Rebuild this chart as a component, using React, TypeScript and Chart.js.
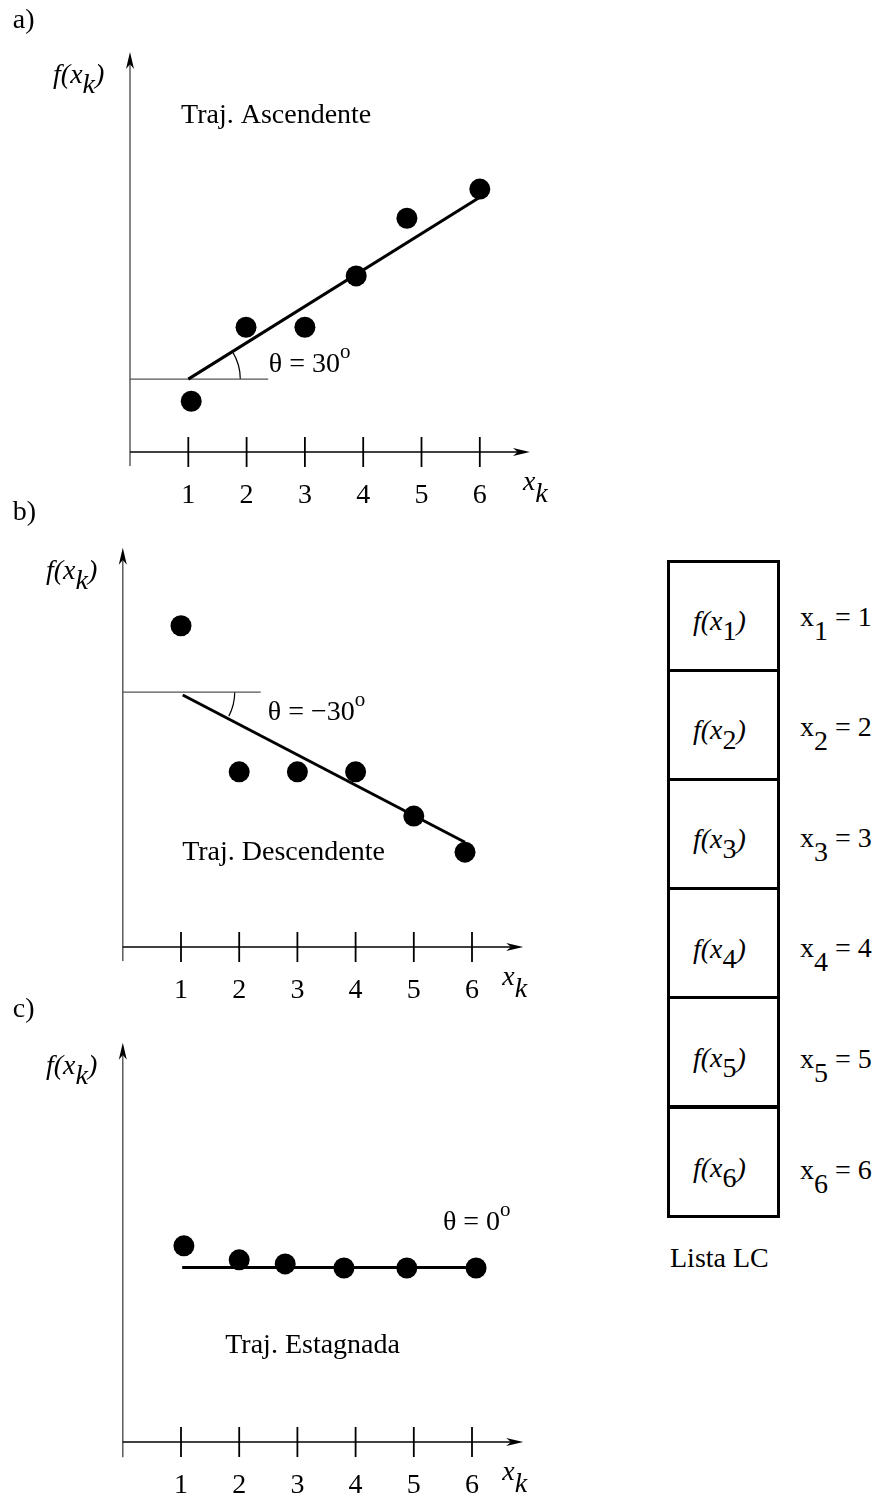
import React, { useEffect, useRef } from "react";
import { Chart, registerables } from "chart.js";

Chart.register(...registerables);

const FONT = '"Liberation Serif", "Times New Roman", serif';

// ---------------- Data ----------------
const tickValues = [1, 2, 3, 4, 5, 6];
const tickLabels = ["1", "2", "3", "4", "5", "6"];

// a) Traj. Ascendente
const ascX = [1.05, 1.99, 3.0, 3.88, 4.75, 6.0];
const ascY = [0.87, 2.14, 2.14, 3.02, 4.01, 4.51];
const ascTrendX = [1.0, 6.0];
const ascTrendY = [1.25, 4.37];
const ascRefX = [0, 2.37];
const ascRefY = [1.25, 1.25];

// b) Traj. Descendente
const descX = [1.0, 2.0, 3.0, 4.0, 5.0, 5.88];
const descY = [5.52, 3.01, 3.01, 3.01, 2.25, 1.63];
const descTrendX = [1.03, 5.88];
const descTrendY = [4.33, 1.8];
const descRefX = [0, 2.37];
const descRefY = [4.38, 4.38];

// c) Traj. Estagnada
const stagX = [1.05, 2.0, 2.79, 3.8, 4.88, 6.07];
const stagY = [3.37, 3.13, 3.06, 2.99, 2.99, 2.99];
const stagTrendX = [1.02, 6.07];
const stagTrendY = [3.0, 3.0];

// Lista LC
const listIndex = ["1", "2", "3", "4", "5", "6"];
const listValues = ["1", "2", "3", "4", "5", "6"];

// ---------------- Layout ----------------
type Panel = {
  letter: string;
  title: string;
  angle: string;
  xs: number[];
  ys: number[];
  trendX: number[];
  trendY: number[];
  refX?: number[];
  refY?: number[];
  top: number;
  height: number;
  width: number;
  ox: number;
  oy: number;
  unit: number;
  yTop: number;
  yBottom: number;
  xRight: number;
  letterPos: [number, number];
  fPos: [number, number];
  titlePos: [number, number];
  anglePos: [number, number];
  xkPos: [number, number];
};

const panels: Panel[] = [
  {
    letter: "a)",
    title: "Traj. Ascendente",
    angle: "30",
    xs: ascX,
    ys: ascY,
    trendX: ascTrendX,
    trendY: ascTrendY,
    refX: ascRefX,
    refY: ascRefY,
    top: 0,
    height: 520,
    width: 600,
    ox: 130,
    oy: 452,
    unit: 58.3,
    yTop: 6.86,
    yBottom: -0.24,
    xRight: 6.86,
    letterPos: [-2.01, 7.28],
    fPos: [-1.32, 6.33],
    titlePos: [0.875, 5.64],
    anglePos: [2.38, 1.37],
    xkPos: [6.74, -0.65],
  },
  {
    letter: "b)",
    title: "Traj. Descendente",
    angle: "\u221230",
    xs: descX,
    ys: descY,
    trendX: descTrendX,
    trendY: descTrendY,
    refX: descRefX,
    refY: descRefY,
    top: 495,
    height: 520,
    width: 600,
    ox: 122.8,
    oy: 947,
    unit: 58.2,
    yTop: 6.86,
    yBottom: -0.24,
    xRight: 6.88,
    letterPos: [-1.89, 7.34],
    fPos: [-1.32, 6.32],
    titlePos: [1.02, 1.49],
    anglePos: [2.49, 3.9],
    xkPos: [6.52, -0.65],
  },
  {
    letter: "c)",
    title: "Traj. Estagnada",
    angle: "0",
    xs: stagX,
    ys: stagY,
    trendX: stagTrendX,
    trendY: stagTrendY,
    top: 990,
    height: 507,
    width: 600,
    ox: 122.8,
    oy: 1442,
    unit: 58.2,
    yTop: 6.86,
    yBottom: -0.26,
    xRight: 6.88,
    letterPos: [-1.89, 7.3],
    fPos: [-1.32, 6.32],
    titlePos: [1.76, 1.53],
    anglePos: [5.5, 3.64],
    xkPos: [6.52, -0.65],
  },
];

type Run = { t: string; it?: boolean; dy?: number; size?: number };

function drawRuns(ctx: CanvasRenderingContext2D, x: number, y: number, runs: Run[]) {
  let cx = x;
  for (const r of runs) {
    ctx.font = `${r.it ? "italic " : ""}${r.size ?? 28}px ${FONT}`;
    ctx.fillText(r.t, cx, y + (r.dy ?? 0));
    cx += ctx.measureText(r.t).width;
  }
}

function arrowHead(
  ctx: CanvasRenderingContext2D,
  tipX: number,
  tipY: number,
  dx: number,
  dy: number,
  len = 17,
  half = 4
) {
  const bx = tipX - dx * len;
  const by = tipY - dy * len;
  const nx = -dy;
  const ny = dx;
  const notchX = tipX - dx * len * 0.72;
  const notchY = tipY - dy * len * 0.72;
  ctx.beginPath();
  ctx.moveTo(tipX, tipY);
  ctx.lineTo(bx + nx * half, by + ny * half);
  ctx.lineTo(notchX, notchY);
  ctx.lineTo(bx - nx * half, by - ny * half);
  ctx.closePath();
  ctx.fill();
}

function makePlugin(p: Panel) {
  return {
    id: "figAxes",
    beforeDatasetsDraw(chart: any) {
      const ctx: CanvasRenderingContext2D = chart.ctx;
      const sx = chart.scales.x;
      const sy = chart.scales.y;
      const X = (v: number) => sx.getPixelForValue(v);
      const Y = (v: number) => sy.getPixelForValue(v);
      ctx.save();
      // y axis
      ctx.strokeStyle = "#444";
      ctx.fillStyle = "#000";
      ctx.lineWidth = 1.3;
      ctx.beginPath();
      ctx.moveTo(X(0), Y(p.yBottom));
      ctx.lineTo(X(0), Y(p.yTop) + 8);
      ctx.stroke();
      arrowHead(ctx, X(0), Y(p.yTop), 0, -1);
      // x axis
      ctx.strokeStyle = "#000";
      ctx.lineWidth = 1.6;
      ctx.beginPath();
      ctx.moveTo(X(0), Y(0));
      ctx.lineTo(X(p.xRight) - 8, Y(0));
      ctx.stroke();
      arrowHead(ctx, X(p.xRight), Y(0), 1, 0);
      // ticks
      ctx.lineWidth = 1.8;
      tickValues.forEach((v) => {
        ctx.beginPath();
        ctx.moveTo(X(v), Y(0) - 15);
        ctx.lineTo(X(v), Y(0) + 15);
        ctx.stroke();
      });
      // angle arc
      if (p.refX && p.refY) {
        const cx = X(p.trendX[0]);
        const cy = Y(p.refY[0]);
        const a = Math.atan2(
          Y(p.trendY[1]) - Y(p.trendY[0]),
          X(p.trendX[1]) - X(p.trendX[0])
        );
        ctx.lineWidth = 1.2;
        ctx.strokeStyle = "#000";
        ctx.beginPath();
        ctx.arc(cx, cy, 52, Math.min(a, 0), Math.max(a, 0));
        ctx.stroke();
      }
      ctx.restore();
    },
    afterDatasetsDraw(chart: any) {
      const ctx: CanvasRenderingContext2D = chart.ctx;
      const sx = chart.scales.x;
      const sy = chart.scales.y;
      const X = (v: number) => sx.getPixelForValue(v);
      const Y = (v: number) => sy.getPixelForValue(v);
      ctx.save();
      ctx.fillStyle = "#000";
      ctx.textBaseline = "alphabetic";
      // tick labels
      ctx.textAlign = "center";
      ctx.font = `28px ${FONT}`;
      tickValues.forEach((v, i) => {
        ctx.fillText(tickLabels[i], X(v), Y(0) + 51);
      });
      ctx.textAlign = "left";
      // panel letter
      drawRuns(ctx, X(p.letterPos[0]), Y(p.letterPos[1]), [{ t: p.letter }]);
      // y axis label f(x_k)
      drawRuns(ctx, X(p.fPos[0]), Y(p.fPos[1]), [
        { t: "f(x", it: true },
        { t: "k", it: true, dy: 10 },
        { t: ")", it: true },
      ]);
      // x axis label x_k
      drawRuns(ctx, X(p.xkPos[0]), Y(p.xkPos[1]), [
        { t: "x", it: true },
        { t: "k", it: true, dy: 12 },
      ]);
      // title
      drawRuns(ctx, X(p.titlePos[0]), Y(p.titlePos[1]), [{ t: p.title }]);
      // angle label
      drawRuns(ctx, X(p.anglePos[0]), Y(p.anglePos[1]), [
        { t: "\u03b8 = " + p.angle },
        { t: "o", size: 21, dy: -14 },
      ]);
      ctx.restore();
    },
  };
}

function PanelChart({ panel }: { panel: Panel }) {
  const ref = useRef<HTMLCanvasElement>(null);
  useEffect(() => {
    const c = ref.current;
    if (!c) return;
    const { width: W, height: H, top: T, ox, oy, unit: u } = panel;
    const datasets: any[] = [
      {
        label: "f(x_k)",
        data: panel.xs.map((x, i) => ({ x, y: panel.ys[i] })),
        showLine: false,
        pointRadius: 10.5,
        pointBackgroundColor: "#000",
        pointBorderWidth: 0,
        pointBorderColor: "#000",
        clip: false,
        order: 0,
      },
      {
        label: "trend",
        data: panel.trendX.map((x, i) => ({ x, y: panel.trendY[i] })),
        showLine: true,
        borderColor: "#000",
        borderWidth: 3,
        pointRadius: 0,
        clip: false,
        order: 1,
      },
    ];
    if (panel.refX && panel.refY) {
      datasets.push({
        label: "ref",
        data: panel.refX.map((x, i) => ({ x, y: panel.refY![i] })),
        showLine: true,
        borderColor: "#555",
        borderWidth: 1.3,
        pointRadius: 0,
        clip: false,
        order: 2,
      });
    }
    const chart = new Chart(c, {
      type: "scatter",
      data: { datasets },
      options: {
        animation: false,
        responsive: false,
        maintainAspectRatio: false,
        devicePixelRatio: 1,
        events: [],
        layout: { padding: 0, autoPadding: false },
        plugins: {
          legend: { display: false },
          tooltip: { enabled: false },
        },
        scales: {
          x: {
            type: "linear",
            display: false,
            bounds: "data",
            min: -ox / u,
            max: (W - ox) / u,
          },
          y: {
            type: "linear",
            display: false,
            bounds: "data",
            min: (oy - T - H) / u,
            max: (oy - T) / u,
          },
        },
      } as any,
      plugins: [makePlugin(panel) as any],
    });
    return () => chart.destroy();
  }, [panel]);
  return (
    <canvas
      ref={ref}
      width={panel.width}
      height={panel.height}
      style={{
        position: "absolute",
        left: 0,
        top: panel.top,
        width: panel.width,
        height: panel.height,
      }}
    />
  );
}

function ListLC() {
  const left = 668;
  const top = 561;
  const w = 110;
  const rowH = 109.2;
  const textStyle: React.CSSProperties = {
    position: "absolute",
    fontFamily: FONT,
    fontSize: 28,
    lineHeight: "32px",
    whiteSpace: "nowrap",
    color: "#000",
  };
  return (
    <>
      {listIndex.map((k, i) => (
        <div
          key={"cell" + k}
          style={{
            position: "absolute",
            left: left - 1.5,
            top: top + i * rowH - 1.5,
            width: w + 3,
            height: rowH + 3,
            border: "3px solid #000",
            boxSizing: "border-box",
          }}
        />
      ))}
      {listIndex.map((k, i) => (
        <div key={"f" + k} style={{ ...textStyle, left: 693, top: 630 + i * 109.4 - 25.5 }}>
          <i>f(x</i>
          <span style={{ position: "relative", top: 10 }}>{k}</span>
          <i>)</i>
        </div>
      ))}
      {listIndex.map((k, i) => (
        <div key={"x" + k} style={{ ...textStyle, left: 800, top: 626 + i * 110.6 - 25.5 }}>
          x<span style={{ position: "relative", top: 14 }}>{k}</span> = {listValues[i]}
        </div>
      ))}
      <div style={{ ...textStyle, left: 670, top: 1267 - 25.5 }}>Lista LC</div>
    </>
  );
}

export default function App() {
  return (
    <div
      style={{
        position: "absolute",
        left: 0,
        top: 0,
        width: 879,
        height: 1497,
        background: "#fff",
        overflow: "hidden",
      }}
    >
      {panels.map((p) => (
        <PanelChart key={p.letter} panel={p} />
      ))}
      <ListLC />
    </div>
  );
}
